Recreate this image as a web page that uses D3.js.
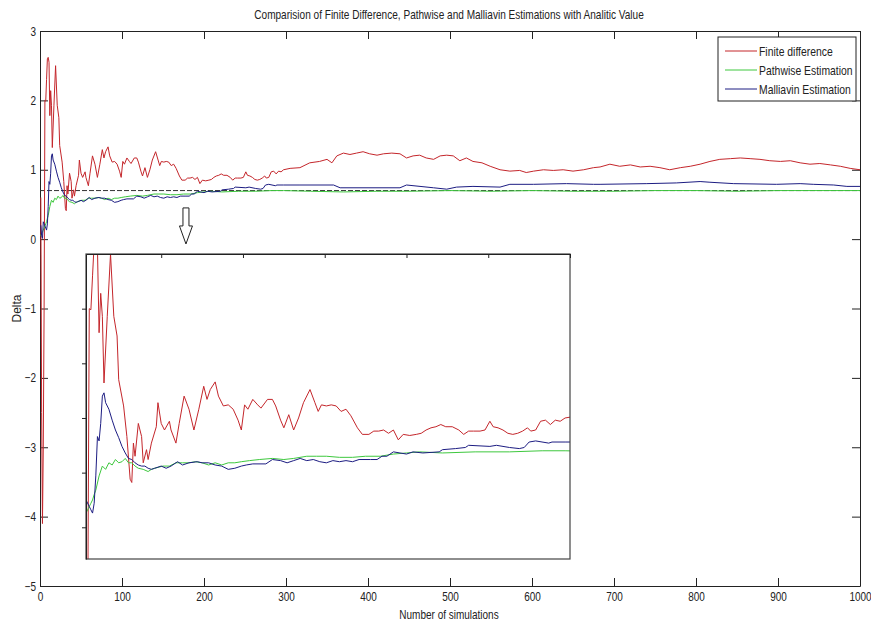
<!DOCTYPE html>
<html>
<head>
<meta charset="utf-8">
<script src="https://cdnjs.cloudflare.com/ajax/libs/d3/7.8.5/d3.min.js"></script>
<style>
  body { margin: 0; background: #fff; }
  svg { display: block; font-family: "Liberation Sans", Arial, sans-serif; }
</style>
</head>
<body>
<div id="chart"></div>
<script>
// Finite difference estimate (red)
var redSims = [
  1, 2, 3, 4, 5, 6, 7, 8, 9, 10,
  11, 12, 13, 14, 15, 17, 19, 21, 23, 24,
  27, 29, 31, 32, 33, 34, 36, 38, 39, 41,
  42, 44, 47, 48, 50, 52, 55, 56, 59, 61,
  64, 67, 70, 73, 76, 78, 80, 83, 85, 88,
  91, 94, 97, 99, 101, 103, 106, 109, 111, 115,
  118, 120, 123, 125, 128, 131, 134, 137, 141, 144,
  146, 148, 151, 154, 157, 160, 163, 166, 170, 173,
  177, 180, 183, 186, 189, 192, 195, 198, 202, 206,
  209, 212, 215, 218, 221, 224, 228, 232, 235, 238,
  241, 245, 248, 251, 253, 256, 259, 262, 265, 268,
  271, 274, 276, 279, 282, 285, 288, 291, 294, 297,
  305, 317, 329, 341, 350, 356, 362, 370, 378, 386,
  394, 402, 411, 419, 429, 439, 447, 455, 463, 471,
  480, 488, 496, 504, 512, 520, 528, 539, 549, 561,
  573, 585, 593, 602, 614, 626, 638, 650, 663, 675,
  683, 695, 707, 720, 732, 744, 756, 768, 781, 793,
  805, 817, 829, 842, 854, 866, 878, 890, 903, 915,
  927, 939, 951, 964, 976, 988, 1000
];
var redDelta = [
  0.60, -2.50, -4.10, -3.00, -1.00, 2.00, 1.99, 2.30, 2.60, 2.62,
  2.55, 1.78, 2.14, 1.93, 1.32, 1.93, 2.50, 1.93, 1.75, 1.35,
  1.11, 0.83, 0.44, 0.41, 0.77, 0.65, 0.95, 0.83, 0.59, 0.71,
  0.62, 0.77, 0.92, 1.14, 0.95, 0.89, 0.97, 0.89, 0.77, 0.95,
  1.20, 1.08, 0.89, 1.08, 1.29, 1.17, 1.26, 1.33, 1.20, 1.11,
  1.12, 1.08, 0.98, 0.89, 1.12, 1.08, 1.17, 1.12, 1.09, 1.17,
  1.17, 1.11, 0.98, 0.91, 1.03, 0.89, 1.00, 1.14, 1.26, 1.14,
  1.06, 1.12, 1.11, 1.12, 1.11, 1.06, 1.08, 1.02, 0.91, 0.85,
  0.85, 0.88, 0.88, 0.89, 0.86, 0.89, 0.80, 0.85, 0.84, 0.85,
  0.86, 0.89, 0.91, 0.92, 0.94, 0.92, 0.92, 0.89, 0.85, 0.88,
  0.88, 0.88, 0.89, 0.97, 0.92, 0.91, 0.89, 0.86, 0.85, 0.86,
  0.88, 0.91, 0.88, 0.89, 0.97, 0.98, 0.94, 0.98, 0.97, 1.00,
  1.02, 1.03, 1.10, 1.12, 1.15, 1.10, 1.20, 1.24, 1.22, 1.24,
  1.26, 1.23, 1.21, 1.23, 1.24, 1.23, 1.17, 1.20, 1.21, 1.17,
  1.15, 1.20, 1.21, 1.20, 1.13, 1.17, 1.12, 1.10, 1.05, 1.00,
  0.98, 0.99, 0.96, 0.98, 1.00, 0.99, 1.00, 0.98, 1.00, 1.03,
  1.04, 1.08, 1.05, 1.07, 1.04, 1.05, 1.03, 1.00, 1.03, 1.05,
  1.08, 1.12, 1.15, 1.16, 1.17, 1.16, 1.15, 1.13, 1.12, 1.13,
  1.10, 1.08, 1.09, 1.07, 1.05, 1.02, 1.00
];

// Pathwise estimate (green)
var greenSims = [
  1, 2, 3, 4, 5, 6, 7, 8, 9, 10,
  12, 14, 16, 18, 20, 22, 24, 26, 28, 30,
  32, 34, 36, 39, 42, 44, 46, 51, 55, 59,
  63, 67, 71, 75, 79, 83, 87, 91, 95, 99,
  104, 110, 118, 125, 131, 139, 145, 151, 159, 167,
  175, 184, 192, 200, 208, 222, 242, 263, 283, 297,
  330, 370, 410, 450, 500, 550, 600, 650, 700, 750,
  800, 850, 900, 950, 1000
];
var greenDelta = [
  0.05, 0.08, 0.10, 0.13, 0.16, 0.19, 0.22, 0.25, 0.30, 0.34,
  0.47, 0.56, 0.53, 0.59, 0.57, 0.62, 0.59, 0.60, 0.63, 0.59,
  0.59, 0.56, 0.54, 0.53, 0.51, 0.53, 0.54, 0.56, 0.56, 0.59,
  0.59, 0.59, 0.60, 0.59, 0.57, 0.59, 0.57, 0.59, 0.59, 0.60,
  0.61, 0.62, 0.63, 0.62, 0.63, 0.65, 0.65, 0.65, 0.64, 0.64,
  0.65, 0.65, 0.67, 0.68, 0.69, 0.68, 0.69, 0.69, 0.70, 0.70,
  0.69, 0.68, 0.69, 0.69, 0.70, 0.69, 0.70, 0.69, 0.69, 0.70,
  0.70, 0.69, 0.70, 0.70, 0.70
];

// Malliavin estimate (blue)
var blueSims = [
  1, 2, 3, 4, 6, 7, 8, 9, 10, 11,
  12, 13, 14, 15, 16, 18, 20, 22, 24, 26,
  28, 30, 32, 34, 36, 38, 40, 42, 44, 46,
  50, 53, 56, 60, 63, 67, 72, 75, 79, 83,
  87, 91, 95, 99, 102, 106, 114, 118, 123, 127,
  131, 135, 139, 143, 147, 151, 155, 159, 163, 167,
  171, 178, 182, 185, 188, 192, 196, 200, 204, 210,
  220, 222, 230, 236, 238, 251, 255, 263, 269, 272,
  275, 279, 287, 289, 297, 317, 358, 366, 439, 447,
  480, 496, 508, 528, 561, 573, 602, 642, 675, 683,
  740, 776, 805, 817, 846, 898, 927, 943, 968, 984,
  1000
];
var blueDelta = [
  0.20, 0.05, 0.01, 0.25, 0.19, 0.16, 0.13, 0.22, 0.47, 0.83,
  0.79, 0.95, 1.20, 1.23, 1.14, 1.08, 0.98, 0.89, 0.82, 0.74,
  0.68, 0.63, 0.62, 0.59, 0.57, 0.56, 0.56, 0.54, 0.53, 0.54,
  0.56, 0.54, 0.56, 0.60, 0.57, 0.59, 0.60, 0.59, 0.59, 0.57,
  0.56, 0.53, 0.54, 0.56, 0.57, 0.58, 0.58, 0.62, 0.61, 0.59,
  0.61, 0.63, 0.61, 0.62, 0.60, 0.59, 0.61, 0.60, 0.61, 0.60,
  0.62, 0.62, 0.62, 0.65, 0.65, 0.69, 0.68, 0.67, 0.69, 0.68,
  0.69, 0.71, 0.72, 0.73, 0.75, 0.74, 0.75, 0.73, 0.72, 0.73,
  0.78, 0.79, 0.77, 0.78, 0.78, 0.78, 0.78, 0.74, 0.74, 0.78,
  0.74, 0.72, 0.75, 0.76, 0.75, 0.79, 0.79, 0.80, 0.79, 0.79,
  0.80, 0.81, 0.83, 0.82, 0.80, 0.79, 0.80, 0.79, 0.78, 0.76,
  0.76
];

var analyticDelta = 0.7;
var seriesNames = ['Finite difference', 'Pathwise Estimation', 'Malliavin Estimation'];
var seriesColors = ['#c4262b', '#3ec83e', '#1c1c82'];
var xTicks = [0, 100, 200, 300, 400, 500, 600, 700, 800, 900, 1000];
var yTicks = [-5, -4, -3, -2, -1, 0, 1, 2, 3];
var insetXTicks = [50, 100, 150, 200, 250, 300];
var insetYTicks = [0, 0.5, 1, 1.5, 2];

var width = 871, height = 622;
var margin = { top: 31, right: 11, bottom: 36, left: 40 };
var plotW = width - margin.left - margin.right;
var plotH = height - margin.top - margin.bottom;
var tickLen = 8;
var narrowFactor = 0.8; // the original figure uses a condensed face

// squeeze text horizontally so it looks like the narrow font of the original
function narrow(sel) {
  sel.each(function() {
    var t = d3.select(this);
    var tx = +t.attr('x') || 0, ty = +t.attr('y') || 0;
    t.attr('x', 0).attr('y', 0)
      .attr('transform', 'translate(' + tx + ',' + ty + ') scale(' + narrowFactor + ',1)');
  });
}

var series = [
  { sims: redSims, delta: redDelta },
  { sims: greenSims, delta: greenDelta },
  { sims: blueSims, delta: blueDelta }
].map(function(s, i) {
  return {
    name: seriesNames[i],
    color: seriesColors[i],
    points: s.sims.map(function(n, j) { return [n, s.delta[j]]; })
  };
});

var svg = d3.select('#chart').append('svg')
  .attr('width', width)
  .attr('height', height);

svg.append('rect').attr('width', width).attr('height', height).attr('fill', '#fff');

var x = d3.scaleLinear().domain([0, 1000]).range([0, plotW]);
var y = d3.scaleLinear().domain([-5, 3]).range([plotH, 0]);

var g = svg.append('g').attr('transform', 'translate(' + margin.left + ',' + margin.top + ')');

svg.append('defs').append('clipPath').attr('id', 'clipMain')
  .append('rect').attr('width', plotW).attr('height', plotH);

// axes, matlab style: ticks inside on all four sides
function styleAxis(sel) {
  sel.selectAll('path.domain').attr('stroke', '#222').attr('stroke-width', 1);
  sel.selectAll('.tick line').attr('stroke', '#222');
  sel.selectAll('.tick text').attr('fill', '#222').style('font-size', '12.5px')
    .style('font-family', '"Liberation Sans", Arial, sans-serif')
    .call(narrow);
}

var fmt = d3.format('d');
g.append('g').attr('transform', 'translate(0,' + plotH + ')')
  .call(d3.axisBottom(x).tickValues(xTicks).tickFormat(fmt).tickSizeInner(-tickLen).tickSizeOuter(0).tickPadding(6))
  .call(styleAxis);
g.append('g')
  .call(d3.axisTop(x).tickValues(xTicks).tickSizeInner(-tickLen).tickSizeOuter(0).tickFormat(''))
  .call(styleAxis);
g.append('g')
  .call(d3.axisLeft(y).tickValues(yTicks).tickFormat(fmt).tickSizeInner(-tickLen).tickSizeOuter(0).tickPadding(4))
  .call(styleAxis);
g.append('g').attr('transform', 'translate(' + plotW + ',0)')
  .call(d3.axisRight(y).tickValues(yTicks).tickSizeInner(-tickLen).tickSizeOuter(0).tickFormat(''))
  .call(styleAxis);

// analytic value
g.append('line')
  .attr('x1', x(0)).attr('x2', x(1000))
  .attr('y1', y(analyticDelta)).attr('y2', y(analyticDelta))
  .attr('stroke', '#333').attr('stroke-width', 1).attr('stroke-dasharray', '5,2');

var line = d3.line()
  .x(function(d) { return x(d[0]); })
  .y(function(d) { return y(d[1]); });

g.append('g').attr('clip-path', 'url(#clipMain)')
  .selectAll('path.series')
  .data(series)
  .enter()
  .append('path')
  .attr('class', 'series')
  .attr('fill', 'none')
  .attr('stroke', function(d) { return d.color; })
  .attr('stroke-width', 1)
  .attr('d', function(d) { return line(d.points); });

// titles
svg.append('text')
  .attr('x', 449)
  .attr('y', 19)
  .attr('text-anchor', 'middle')
  .style('font-size', '12.6px')
  .attr('fill', '#222')
  .text('Comparision of Finite Difference, Pathwise and Malliavin Estimations with Analitic Value')
  .call(narrow);

svg.append('text')
  .attr('x', 449)
  .attr('y', 619)
  .attr('text-anchor', 'middle')
  .style('font-size', '12.5px')
  .attr('fill', '#222')
  .text('Number of simulations')
  .call(narrow);

svg.append('text')
  .attr('transform', 'translate(21,' + (margin.top + plotH / 2) + ') rotate(-90)')
  .attr('text-anchor', 'middle')
  .style('font-size', '12px')
  .attr('fill', '#222')
  .text('Delta');

// legend
var legend = g.append('g').attr('transform', 'translate(' + (plotW - 142) + ',6)');
legend.append('rect')
  .attr('width', 138).attr('height', 64)
  .attr('fill', '#fff').attr('stroke', '#222');
var item = legend.selectAll('g.item')
  .data(series)
  .enter()
  .append('g')
  .attr('class', 'item')
  .attr('transform', function(d, i) { return 'translate(0,' + (14 + i * 19) + ')'; });
item.append('line')
  .attr('x1', 7).attr('x2', 39)
  .attr('stroke', function(d) { return d.color; });
item.append('text')
  .attr('x', 41).attr('dy', '0.35em')
  .style('font-size', '13px')
  .attr('fill', '#222')
  .text(function(d) { return d.name; })
  .call(narrow);

// arrow pointing to the zoomed inset
var ax = x(178);
var arrowTop = y(0.45), arrowMid = y(0.19), arrowTip = y(-0.07);
g.append('path')
  .attr('d', 'M' + (ax - 3) + ',' + arrowTop + 'V' + arrowMid + 'H' + (ax - 6.5) +
    'L' + ax + ',' + arrowTip + 'L' + (ax + 6.5) + ',' + arrowMid + 'H' + (ax + 3) + 'V' + arrowTop + 'Z')
  .attr('fill', '#fff').attr('stroke', '#222').attr('stroke-width', 1);

// inset: zoom of the first 300 simulations
var inset = { left: 86, top: 254, right: 570, bottom: 559 };
var ix = d3.scaleLinear().domain([4, 300]).range([inset.left, inset.right]);
var iy = d3.scaleLinear().domain([-0.29, 2.5]).range([inset.bottom, inset.top]);

svg.select('defs').append('clipPath').attr('id', 'clipInset')
  .append('rect')
  .attr('x', inset.left).attr('y', inset.top)
  .attr('width', inset.right - inset.left).attr('height', inset.bottom - inset.top);

svg.append('rect')
  .attr('x', inset.left).attr('y', inset.top)
  .attr('width', inset.right - inset.left).attr('height', inset.bottom - inset.top)
  .attr('fill', '#fff');

var insetLine = d3.line()
  .x(function(d) { return ix(d[0]); })
  .y(function(d) { return iy(d[1]); });

svg.append('g').attr('clip-path', 'url(#clipInset)')
  .selectAll('path')
  .data(series)
  .enter()
  .append('path')
  .attr('fill', 'none')
  .attr('stroke', function(d) { return d.color; })
  .attr('stroke-width', 1)
  .attr('d', function(d) { return insetLine(d.points); });

svg.append('rect')
  .attr('x', inset.left).attr('y', inset.top)
  .attr('width', inset.right - inset.left).attr('height', inset.bottom - inset.top)
  .attr('fill', 'none').attr('stroke', '#444').attr('stroke-width', 1.2);

svg.append('g').attr('transform', 'translate(0,' + inset.top + ')')
  .call(d3.axisTop(ix).tickValues(insetXTicks).tickSizeInner(-4).tickSizeOuter(0).tickFormat(''))
  .call(styleAxis);
svg.append('g').attr('transform', 'translate(' + inset.left + ',0)')
  .call(d3.axisLeft(iy).tickValues(insetYTicks).tickSizeInner(4).tickSizeOuter(0).tickFormat(''))
  .call(styleAxis);
</script>
</body>
</html>
